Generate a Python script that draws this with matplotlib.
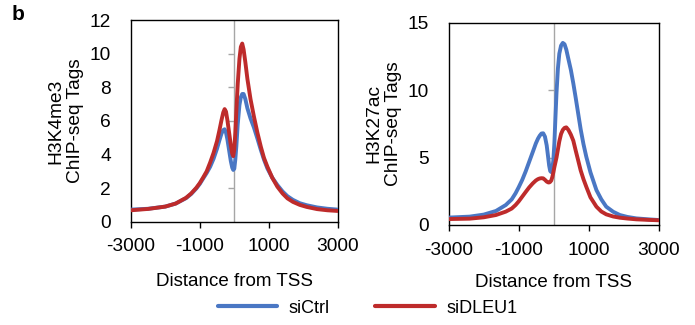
'''
ChIP-seq tag profiles around the TSS: H3K4me3 and H3K27ac, siCtrl vs siDLEU1
'''

import matplotlib
matplotlib.use('Agg')
import matplotlib.pyplot as plt

# --- values ---
# H3K4me3 panel
k4_x = [-3000, -2500, -2000, -1700, -1400, -1250, -1100, -1000, -900, -800,
        -700, -600, -500, -430, -370, -320, -280, -240, -200, -150, -100, -60,
        -30, 0, 30, 60, 100, 150, 190, 230, 270, 320, 380, 470, 570, 670, 770,
        860, 960, 1100, 1250, 1400, 1540, 1700, 1900, 2100, 2400, 2700, 3000]
k4_ctrl = [0.72, 0.77, 0.90, 1.08, 1.40, 1.65, 1.98, 2.25, 2.58, 2.90,
           3.27, 3.75, 4.35, 4.85, 5.25, 5.45, 5.50, 5.30, 4.90, 4.25, 3.60, 3.22,
           3.08, 3.15, 3.70, 4.50, 5.80, 6.95, 7.40, 7.60, 7.60, 7.30, 6.75, 6.15,
           5.60, 4.95, 4.27, 3.70, 3.17, 2.62, 2.18, 1.80, 1.52, 1.30, 1.10, 0.98,
           0.85, 0.77, 0.72]
k4_dleu1 = [0.68, 0.76, 0.90, 1.08, 1.42, 1.68, 2.02, 2.30, 2.64, 3.00,
            3.52, 4.10, 4.80, 5.45, 6.05, 6.50, 6.70, 6.55, 6.05, 5.30, 4.55, 4.05,
            3.90, 4.30, 5.30, 6.60, 8.20, 9.70, 10.40, 10.60, 10.25, 9.50, 8.50,
            7.30, 6.25, 5.30, 4.46, 3.80, 3.27, 2.62, 2.08, 1.68, 1.39, 1.18, 1.00,
            0.88, 0.75, 0.68, 0.64]

# H3K27ac panel
k27_x = [-3000, -2400, -2000, -1650, -1370, -1200, -1090, -1000, -900, -800,
         -700, -600, -510, -450, -400, -350, -300, -250, -200, -160, -130, -100,
         -70, -40, -10, 20, 50, 80, 120, 160, 210, 260, 310, 360, 420, 490, 560,
         630, 700, 770, 850, 930, 1050, 1220, 1360, 1500, 1700, 1890, 2100, 2360,
         2700, 3000]
k27_ctrl = [0.55, 0.62, 0.77, 1.04, 1.48, 1.90, 2.35, 2.80, 3.34, 3.98,
            4.69, 5.40, 6.05, 6.40, 6.62, 6.78, 6.80, 6.55, 5.90, 5.05, 4.40, 4.00,
            3.92, 4.15, 4.80, 6.10, 8.00, 9.80, 11.60, 12.70, 13.30, 13.50, 13.40,
            13.00, 12.30, 11.50, 10.50, 9.40, 8.25, 7.10, 6.00, 5.07, 3.90, 2.59,
            1.90, 1.36, 0.98, 0.74, 0.60, 0.49, 0.42, 0.37]
k27_dleu1 = [0.44, 0.47, 0.57, 0.74, 0.99, 1.22, 1.48, 1.75, 2.10, 2.45,
             2.79, 3.08, 3.30, 3.40, 3.45, 3.47, 3.46, 3.35, 3.22, 3.16, 3.15, 3.20,
             3.30, 3.55, 3.90, 4.30, 4.65, 5.00, 5.60, 6.20, 6.75, 7.05, 7.20, 7.24,
             7.05, 6.70, 6.25, 5.50, 4.78, 4.05, 3.40, 2.84, 2.05, 1.36, 1.00, 0.79,
             0.63, 0.54, 0.48, 0.42, 0.38, 0.35]

x_ticks = [-3000, -1000, 1000, 3000]
k4_yticks = [0, 2, 4, 6, 8, 10, 12]
k27_yticks = [0, 5, 10, 15]

BLUE = '#4A77C4'
RED = '#BE2B2B'
GRAY = '#A6A6A6'
FONT = 'Liberation Sans'

plt.rcParams['font.family'] = FONT

fig = plt.figure(figsize=(6.95, 3.25), dpi=100)
ax1 = fig.add_axes([0.1882, 0.3178, 0.2978, 0.6206])
ax2 = fig.add_axes([0.6456, 0.3077, 0.3022, 0.6225])


def style_panel(ax, x, ctrl, dleu1, yticks, ylabel, xlabelpad):
    ax.axvline(0, color=GRAY, linewidth=1.0, zorder=1)
    ax.plot(x, ctrl, color=BLUE, linewidth=2.8, solid_capstyle='round',
            solid_joinstyle='round', zorder=3, label='siCtrl')
    ax.plot(x, dleu1, color=RED, linewidth=2.8, solid_capstyle='round',
            solid_joinstyle='round', zorder=4, label='siDLEU1')

    ax.set_xlim(x_ticks[0], x_ticks[-1])
    ax.set_ylim(yticks[0], yticks[-1])
    ax.set_xticks(x_ticks)
    ax.set_xticklabels([str(v) for v in x_ticks])
    ax.set_yticks(yticks)

    for s in ax.spines.values():
        s.set_color('black')
        s.set_linewidth(1.0)

    ax.tick_params(axis='x', direction='out', length=4, width=1.0, pad=8,
                   labelsize=13.8)
    ax.tick_params(axis='y', length=0, pad=14.5, labelsize=13.8)

    # small gray ticks on the centre line (Excel-style crossing axis)
    sec = ax.secondary_yaxis(0.5)
    sec.set_yticks(yticks[1:-1])
    sec.set_yticklabels([])
    sec.yaxis.set_ticks_position('left')
    for s in sec.spines.values():
        s.set_visible(False)
    sec.tick_params(axis='y', direction='out', length=4, width=1.0,
                    color=GRAY, labelleft=False, labelright=False)

    ax.set_ylabel(ylabel, fontsize=13.8, labelpad=4, linespacing=1.2)
    ax.set_xlabel('Distance from TSS', fontsize=13.5, labelpad=xlabelpad)


style_panel(ax1, k4_x, k4_ctrl, k4_dleu1, k4_yticks,
            'H3K4me3\nChIP-seq Tags', 13)
style_panel(ax2, k27_x, k27_ctrl, k27_dleu1, k27_yticks,
            'H3K27ac\nChIP-seq Tags', 11)

handles, labels = ax1.get_legend_handles_labels()
leg = fig.legend(handles, labels, loc='center', bbox_to_anchor=(0.529, 0.052),
                 ncol=2, frameon=False, handlelength=3.3, columnspacing=2.5,
                 handletextpad=0.65, prop={'size': 13})
for line in leg.get_lines():
    line.set_linewidth(3.0)

fig.text(0.016, 0.955, 'b', fontweight='bold', fontsize=15,
         va='center', ha='left')

fig.savefig('out.png', dpi=100)
